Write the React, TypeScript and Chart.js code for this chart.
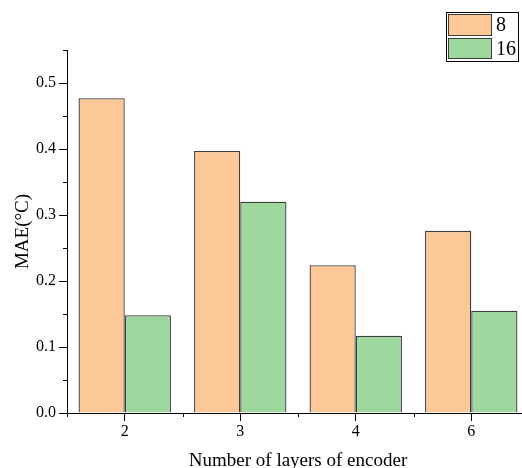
import React, { useEffect, useRef } from "react";
import { Chart, registerables } from "chart.js";

Chart.register(...registerables);

const categories = ["2", "3", "4", "6"];
const series8 = [0.477, 0.397, 0.224, 0.276];
const series16 = [0.148, 0.32, 0.117, 0.155];
const seriesLabels = ["8", "16"];
const yTicks = [0, 0.1, 0.2, 0.3, 0.4, 0.5];
const yMinorTicks = [0.05, 0.15, 0.25, 0.35, 0.45, 0.55];

const FONT = "'Liberation Serif', 'Times New Roman', serif";

const minorTicksPlugin = {
  id: "minorTicks",
  afterDraw(chart: any) {
    const ctx = chart.ctx;
    const area = chart.chartArea;
    const y = chart.scales.y;
    ctx.save();
    ctx.strokeStyle = "#000";
    ctx.lineWidth = 1;
    ctx.beginPath();
    yMinorTicks.forEach((v) => {
      const py = Math.round(y.getPixelForValue(v)) + 0.5;
      ctx.moveTo(area.left - 4, py);
      ctx.lineTo(area.left, py);
    });
    const n = chart.data.labels.length;
    const w = (area.right - area.left) / n;
    for (let i = 0; i <= n; i++) {
      const px = Math.round(area.left + i * w) + 0.5;
      ctx.moveTo(px, area.bottom);
      ctx.lineTo(px, area.bottom + 4);
    }
    ctx.stroke();
    ctx.restore();
  },
};

const boxLegendPlugin = {
  id: "boxLegend",
  afterDraw(chart: any) {
    const ctx = chart.ctx;
    const ds = chart.data.datasets;
    const bx = 446.5, by = 12.5, bw = 72, bh = 49;
    ctx.save();
    ctx.fillStyle = "#fff";
    ctx.fillRect(bx, by, bw, bh);
    ctx.strokeStyle = "#000";
    ctx.lineWidth = 1;
    ctx.strokeRect(bx, by, bw, bh);
    const rows = [
      { y: 14.5, h: 21 },
      { y: 38.5, h: 20 },
    ];
    ds.forEach((d: any, i: number) => {
      const r = rows[i];
      ctx.fillStyle = d.backgroundColor;
      ctx.fillRect(448.5, r.y, 43, r.h);
      ctx.strokeStyle = "#3c3c3c";
      ctx.strokeRect(448.5, r.y, 43, r.h);
      ctx.fillStyle = "#000";
      ctx.font = `20px ${FONT}`;
      ctx.textBaseline = "middle";
      ctx.textAlign = "left";
      ctx.fillText(d.label, 496, r.y + r.h / 2 + 1);
    });
    ctx.restore();
  },
};

export default function App() {
  const ref = useRef<HTMLCanvasElement>(null);
  useEffect(() => {
    if (!ref.current) return;
    const chart = new Chart(ref.current, {
      type: "bar",
      data: {
        labels: categories,
        datasets: [
          {
            label: seriesLabels[0],
            data: series8,
            backgroundColor: "rgb(252,200,152)",
            borderColor: "#3c3c3c",
            borderWidth: 1.3,
            categoryPercentage: 0.8,
            barPercentage: 1.0,
          },
          {
            label: seriesLabels[1],
            data: series16,
            backgroundColor: "rgb(158,216,158)",
            borderColor: "#3c3c3c",
            borderWidth: 1.3,
            categoryPercentage: 0.8,
            barPercentage: 1.0,
          },
        ],
      },
      options: {
        responsive: false,
        animation: false,
        layout: { padding: { top: 50, right: 11, bottom: 4, left: 0 } },
        plugins: {
          legend: { display: false },
          tooltip: { enabled: false },
        },
        scales: {
          x: {
            offset: true,
            grid: {
              offset: false,
              drawOnChartArea: false,
              drawTicks: true,
              tickLength: 8,
              color: "#000",
            },
            border: { display: true, color: "#000", width: 1 },
            ticks: {
              color: "#000",
              padding: 1,
              font: { family: FONT, size: 16 },
            },
            title: {
              display: true,
              text: "Number of layers of encoder",
              color: "#000",
              font: { family: FONT, size: 19 },
              padding: { top: 4, bottom: 4 },
            },
            afterFit(scale: any) {
              scale.height = 63;
            },
          },
          y: {
            min: 0,
            max: 0.55,
            afterBuildTicks(scale: any) {
              scale.ticks = yTicks.map((v) => ({ value: v }));
            },
            grid: {
              drawOnChartArea: false,
              drawTicks: true,
              tickLength: 8,
              color: "#000",
            },
            border: { display: true, color: "#000", width: 1 },
            ticks: {
              color: "#000",
              padding: 3,
              font: { family: FONT, size: 16 },
              callback: (v: any) => Number(v).toFixed(1),
            },
            title: {
              display: true,
              text: "MAE(°C)",
              color: "#000",
              font: { family: FONT, size: 19 },
              padding: { top: 12, bottom: 4 },
            },
            afterFit(scale: any) {
              scale.width = 67;
            },
          },
        },
      },
      plugins: [minorTicksPlugin, boxLegendPlugin],
    });
    return () => chart.destroy();
  }, []);
  return (
    <div
      style={{
        position: "fixed",
        left: 0,
        top: 0,
        width: 522,
        height: 468,
        overflow: "hidden",
        background: "#fff",
      }}
    >
      <canvas ref={ref} width={540} height={480} style={{ display: "block" }} />
    </div>
  );
}
